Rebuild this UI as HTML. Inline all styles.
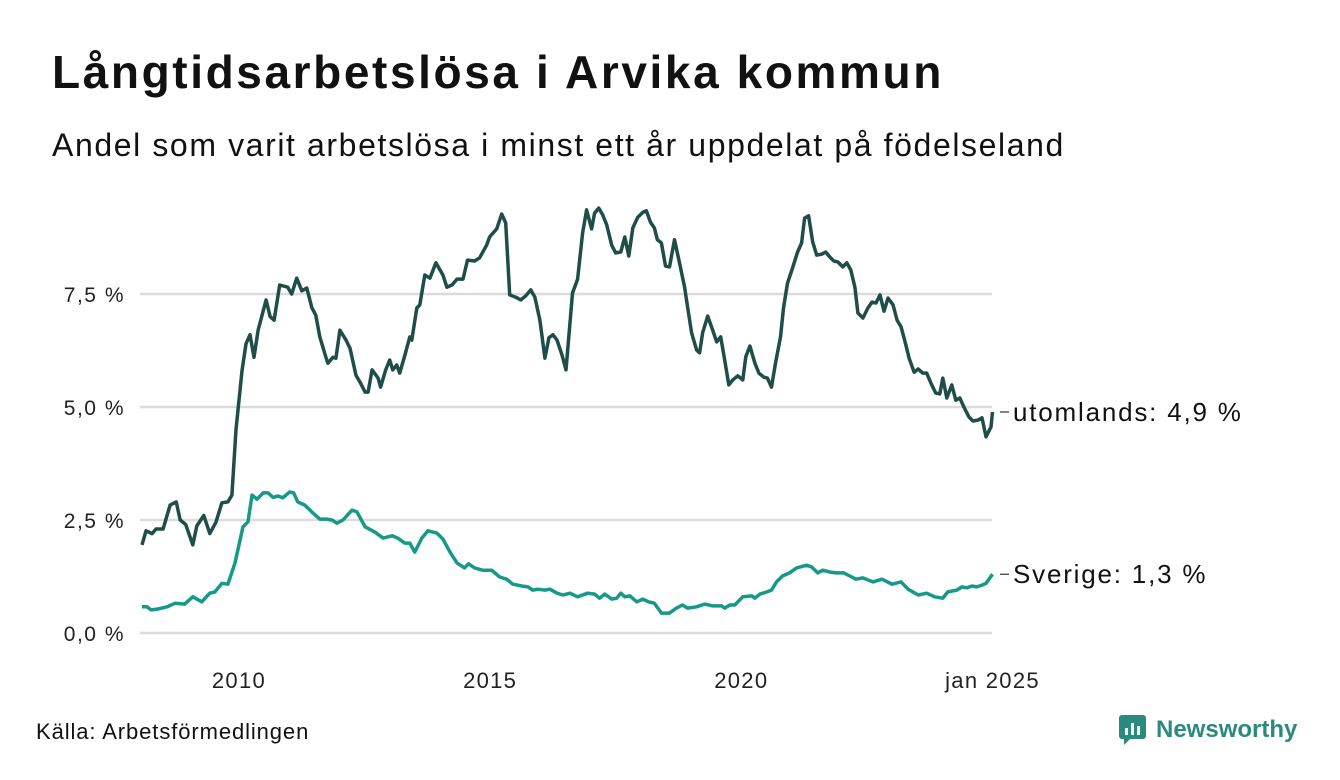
<!DOCTYPE html>
<html><head><meta charset="utf-8">
<style>
body{margin:0;background:#fff;font-family:"Liberation Sans",sans-serif;}
#wrap{position:relative;width:1340px;height:780px;overflow:hidden;}
h1{position:absolute;left:52px;top:45px;margin:0;font-size:46px;font-weight:bold;color:#111;letter-spacing:2.6px}
.sub{position:absolute;left:52px;top:127px;font-size:32px;color:#111;letter-spacing:1.6px}
.src{position:absolute;left:36px;top:719px;font-size:22px;color:#111;letter-spacing:0.9px}
</style></head><body>
<div id="wrap">
<h1>Långtidsarbetslösa i Arvika kommun</h1>
<div class="sub">Andel som varit arbetslösa i minst ett år uppdelat på födelseland</div>
<svg id="chart" width="1340" height="780" style="position:absolute;left:0;top:0"></svg>
<div class="src">Källa: Arbetsförmedlingen</div>
<div style="position:absolute;left:1118px;top:714px;height:32px;display:flex;align-items:center">
<svg width="30" height="32"><rect x="1" y="1" width="27" height="24" rx="3" fill="#2a8a7e"/><polygon points="6,25 12,25 6,31" fill="#2a8a7e"/><rect x="7" y="14" width="3" height="7" fill="#fff"/><rect x="13" y="9" width="3" height="12" fill="#fff"/><rect x="19" y="12" width="3" height="9" fill="#fff"/></svg>
<span style="font-size:24px;font-weight:bold;color:#2a8a7e;margin-left:8px">Newsworthy</span>
</div>
</div>
<script>
const yTicks=[0,2.5,5,7.5];
const yTickLabels=["0,0 %","2,5 %","5,0 %","7,5 %"];
const xTicks=[2010,2015,2020,2025];
const xTickLabels=["2010","2015","2020","jan 2025"];
const utlDates=[2008.07,2008.15,2008.27,2008.35,2008.49,2008.63,2008.75,2008.83,2008.94,2009.08,2009.16,2009.30,2009.42,2009.54,2009.66,2009.78,2009.86,2009.94,2010.06,2010.14,2010.22,2010.30,2010.38,2010.54,2010.62,2010.70,2010.81,2010.97,2011.05,2011.15,2011.25,2011.35,2011.45,2011.53,2011.61,2011.73,2011.77,2011.87,2011.93,2012.01,2012.13,2012.21,2012.33,2012.41,2012.51,2012.57,2012.65,2012.77,2012.82,2012.92,2013.00,2013.06,2013.14,2013.20,2013.30,2013.40,2013.44,2013.54,2013.60,2013.70,2013.80,2013.92,2014.06,2014.14,2014.24,2014.34,2014.46,2014.55,2014.69,2014.79,2014.93,2014.99,2015.13,2015.23,2015.31,2015.39,2015.51,2015.61,2015.71,2015.81,2015.89,2015.99,2016.09,2016.17,2016.25,2016.33,2016.43,2016.51,2016.64,2016.74,2016.84,2016.92,2017.02,2017.08,2017.16,2017.24,2017.32,2017.42,2017.50,2017.60,2017.68,2017.76,2017.84,2017.94,2018.04,2018.11,2018.19,2018.27,2018.33,2018.41,2018.49,2018.57,2018.67,2018.77,2018.87,2018.93,2019.01,2019.11,2019.17,2019.23,2019.33,2019.43,2019.51,2019.59,2019.67,2019.75,2019.83,2019.93,2020.03,2020.09,2020.17,2020.27,2020.35,2020.45,2020.52,2020.60,2020.68,2020.78,2020.84,2020.92,2021.02,2021.12,2021.20,2021.26,2021.34,2021.42,2021.50,2021.60,2021.68,2021.76,2021.84,2021.92,2022.02,2022.10,2022.18,2022.26,2022.32,2022.42,2022.52,2022.60,2022.68,2022.76,2022.84,2022.92,2023.02,2023.10,2023.18,2023.26,2023.34,2023.44,2023.52,2023.61,2023.69,2023.79,2023.87,2023.95,2024.01,2024.09,2024.19,2024.27,2024.35,2024.43,2024.53,2024.61,2024.71,2024.79,2024.87,2024.97,2025.0];
const utlValues=[1.95,2.26,2.2,2.3,2.3,2.83,2.9,2.5,2.4,1.95,2.37,2.6,2.2,2.45,2.88,2.9,3.05,4.5,5.8,6.4,6.6,6.1,6.7,7.37,7.0,6.92,7.7,7.65,7.5,7.85,7.57,7.63,7.2,7.03,6.55,6.1,5.97,6.1,6.08,6.7,6.48,6.3,5.7,5.55,5.33,5.33,5.82,5.64,5.44,5.82,6.04,5.82,5.93,5.75,6.13,6.55,6.48,7.19,7.26,7.92,7.85,8.19,7.92,7.65,7.7,7.83,7.83,8.25,8.23,8.3,8.58,8.76,8.94,9.27,9.07,7.48,7.43,7.37,7.46,7.59,7.43,6.92,6.08,6.53,6.6,6.48,6.15,5.82,7.52,7.83,8.85,9.36,8.94,9.29,9.4,9.25,9.03,8.58,8.41,8.43,8.76,8.34,8.96,9.2,9.31,9.34,9.09,8.96,8.7,8.63,8.12,8.1,8.7,8.19,7.65,7.21,6.64,6.26,6.2,6.64,7.01,6.7,6.44,6.55,6.04,5.49,5.6,5.69,5.6,6.11,6.35,5.97,5.75,5.66,5.64,5.44,5.97,6.55,7.19,7.74,8.08,8.43,8.63,9.18,9.23,8.65,8.36,8.38,8.43,8.32,8.23,8.21,8.1,8.19,8.03,7.65,7.08,6.97,7.19,7.32,7.3,7.48,7.12,7.41,7.26,6.92,6.77,6.44,6.08,5.77,5.84,5.75,5.75,5.49,5.31,5.29,5.64,5.2,5.49,5.15,5.2,5.0,4.78,4.69,4.71,4.76,4.34,4.56,4.89];
const sveDates=[2008.07,2008.17,2008.25,2008.39,2008.57,2008.73,2008.92,2009.08,2009.26,2009.42,2009.52,2009.66,2009.78,2009.92,2010.08,2010.18,2010.26,2010.36,2010.48,2010.58,2010.68,2010.78,2010.87,2011.01,2011.09,2011.17,2011.31,2011.45,2011.61,2011.75,2011.85,2011.95,2012.07,2012.25,2012.35,2012.51,2012.71,2012.87,2013.05,2013.16,2013.30,2013.40,2013.50,2013.64,2013.76,2013.94,2014.06,2014.20,2014.34,2014.49,2014.57,2014.69,2014.85,2015.03,2015.19,2015.33,2015.45,2015.63,2015.75,2015.85,2015.95,2016.09,2016.19,2016.33,2016.45,2016.59,2016.74,2016.94,2017.08,2017.18,2017.28,2017.42,2017.52,2017.60,2017.68,2017.78,2017.92,2018.04,2018.15,2018.27,2018.41,2018.57,2018.71,2018.83,2018.93,2019.11,2019.27,2019.43,2019.61,2019.67,2019.77,2019.87,2020.03,2020.21,2020.27,2020.37,2020.51,2020.60,2020.70,2020.82,2020.96,2021.10,2021.30,2021.40,2021.52,2021.62,2021.76,2021.88,2022.04,2022.16,2022.28,2022.42,2022.62,2022.80,2023.00,2023.18,2023.32,2023.52,2023.69,2023.85,2024.01,2024.11,2024.29,2024.39,2024.49,2024.59,2024.69,2024.79,2024.87,2025.0];
const sveValues=[0.58,0.58,0.51,0.53,0.58,0.66,0.64,0.8,0.69,0.88,0.91,1.1,1.08,1.55,2.35,2.46,3.05,2.96,3.1,3.1,3.0,3.03,2.99,3.12,3.1,2.9,2.83,2.68,2.52,2.52,2.5,2.43,2.5,2.72,2.68,2.35,2.23,2.1,2.15,2.1,1.99,1.99,1.79,2.1,2.26,2.21,2.08,1.79,1.55,1.44,1.53,1.44,1.39,1.39,1.24,1.19,1.08,1.04,1.02,0.95,0.97,0.95,0.97,0.88,0.84,0.88,0.8,0.88,0.86,0.77,0.86,0.75,0.77,0.88,0.8,0.82,0.69,0.75,0.69,0.66,0.44,0.44,0.55,0.62,0.55,0.58,0.64,0.6,0.6,0.55,0.62,0.62,0.8,0.82,0.77,0.86,0.91,0.95,1.13,1.26,1.33,1.44,1.5,1.46,1.33,1.39,1.35,1.33,1.33,1.26,1.19,1.22,1.13,1.19,1.08,1.13,0.97,0.84,0.88,0.8,0.77,0.91,0.95,1.02,1.0,1.04,1.02,1.06,1.1,1.3];
const NS='http://www.w3.org/2000/svg';
const svg=document.getElementById('chart');
const X0=138.5,X1=992.5,T0=2008,T1=2025;
const x=t=>X0+(t-T0)/(T1-T0)*(X1-X0);
const Y0=633,PPU=45.2;
const y=v=>Y0-v*PPU;
function mk(tag,attrs,txt){const e=document.createElementNS(NS,tag);for(const k in attrs)e.setAttribute(k,attrs[k]);if(txt!==undefined)e.textContent=txt;svg.appendChild(e);return e;}
yTicks.forEach((v,i)=>{
 const g=mk('line',{x1:140,x2:992,y1:y(v),y2:y(v),stroke:'#dcdcdf','stroke-width':2.5});
 
 
 const t=mk('text',{x:125,y:y(v)+8,'text-anchor':'end','font-size':21,'letter-spacing':1.5,fill:'#222','font-family':'Liberation Sans, sans-serif'},yTickLabels[i]);
 
 
});
xTicks.forEach((v,i)=>{
 const t=mk('text',{x:x(v),y:688,'text-anchor':'middle','font-size':22,'letter-spacing':1.3,fill:'#222','font-family':'Liberation Sans, sans-serif'},xTickLabels[i]);
 
 
});
function line(ds,vs,col,name,label){
 const d=ds.map((t,i)=>(i?'L':'M')+x(t).toFixed(1)+','+y(vs[i]).toFixed(1)).join('');
 const p=mk('path',{d:d,fill:'none',stroke:col,'stroke-width':3.5,'stroke-linejoin':'round'});
 
 
 const ly=y(vs[vs.length-1]);
 const tick=mk('line',{x1:1000,x2:1009,y1:ly,y2:ly,stroke:'#333','stroke-width':1.2});
 
 
 const t=mk('text',{x:1013,y:ly+9,'font-size':26,'letter-spacing':1.8,fill:'#111','font-family':'Liberation Sans, sans-serif'},label);
 
 
}
line(utlDates,utlValues,'#1f4d47','utomlands-line','utomlands: 4,9 %');
line(sveDates,sveValues,'#17998a','sverige-line','Sverige: 1,3 %');
</script>
</body></html>
